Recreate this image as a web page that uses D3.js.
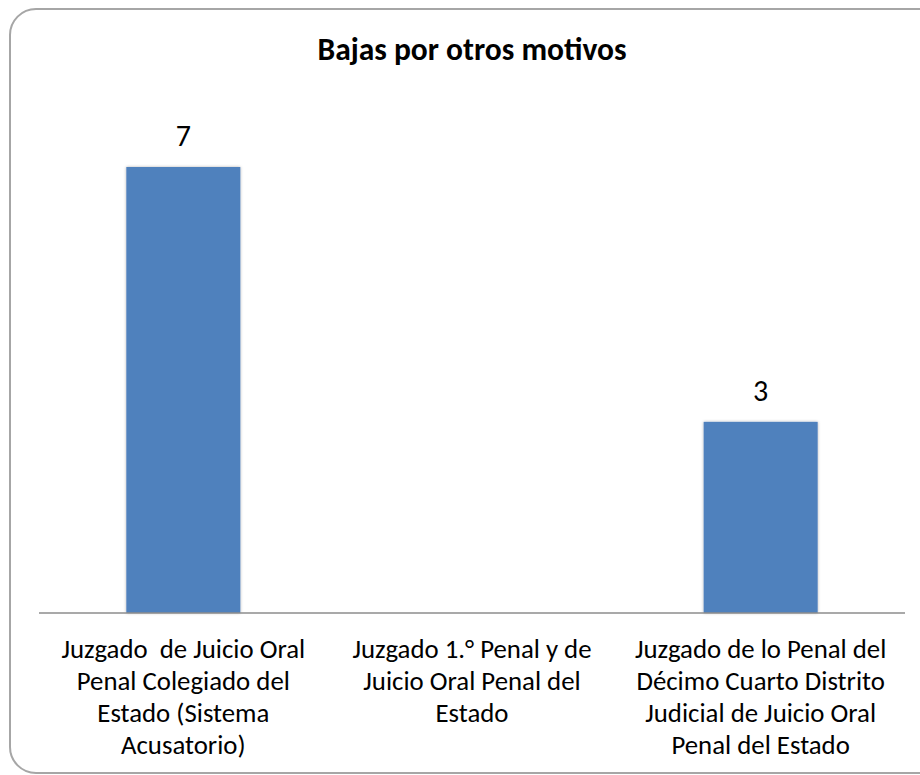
<!DOCTYPE html>
<html>
<head>
<meta charset="utf-8">
<script src="https://cdn.jsdelivr.net/npm/d3@7"></script>
<style>
  body { margin: 0; background: #fff; }
  text { font-family: Calibri, Carlito, Lato, sans-serif; fill: #000; white-space: pre; }
</style>
</head>
<body>
<div id="chart"></div>
<script>
var categorias = [
  "Juzgado  de Juicio Oral|Penal Colegiado del|Estado (Sistema|Acusatorio)",
  "Juzgado 1.° Penal y de|Juicio Oral Penal del|Estado",
  "Juzgado de lo Penal del|Décimo Cuarto Distrito|Judicial de Juicio Oral|Penal del Estado"
];
var valores = [7, null, 3];
var titulo = "Bajas por otros motivos";

var width = 920, height = 775;
var margin = {top: 100, right: 15, bottom: 162, left: 39};

var svg = d3.select("#chart")
  .append("svg")
  .attr("width", width)
  .attr("height", height);

// marco redondeado
svg.append("rect")
  .attr("x", 10).attr("y", 9)
  .attr("width", 935).attr("height", 764)
  .attr("rx", 26).attr("ry", 26)
  .style("fill", "#fff")
  .style("stroke", "#a6a6a6")
  .style("stroke-width", 2);

svg.append("text")
  .attr("x", 472).attr("y", 60)
  .style("text-anchor", "middle")
  .style("font-weight", "bold")
  .style("font-size", "31.5px")
  .text(titulo);

var x = d3.scaleBand()
  .domain(d3.range(categorias.length))
  .range([margin.left, width - margin.right])
  .paddingInner(0.605)
  .paddingOuter(0.3025);

var y = d3.scaleLinear()
  .domain([0, 7])
  .range([height - margin.bottom, 167]);

var base = y(0);

// sombra leve
var defs = svg.append("defs");
var f = defs.append("filter").attr("id", "sombra").attr("x", "-10%").attr("y", "-10%").attr("width", "120%").attr("height", "120%");
f.append("feDropShadow").attr("dx", 0).attr("dy", 0).attr("stdDeviation", 1.5).attr("flood-color", "#000").attr("flood-opacity", 0.3);

valores.forEach(function(v, i) {
  if (v == null) return;
  svg.append("rect")
    .attr("class", "bar")
    .attr("x", x(i))
    .attr("y", y(v))
    .attr("width", x.bandwidth())
    .attr("height", base - y(v))
    .style("fill", "#4f81bd")
    .style("filter", "url(#sombra)");

  // etiqueta de valor
  svg.append("text")
    .attr("x", x(i) + x.bandwidth() / 2)
    .attr("y", y(v) - 21)
    .style("text-anchor", "middle")
    .style("font-size", "30px")
    .text(v);
});

// eje
svg.append("line")
  .attr("x1", margin.left).attr("x2", 905)
  .attr("y1", base).attr("y2", base)
  .style("stroke", "#8c8c8c")
  .style("stroke-width", 1.5);

// etiquetas de categoria
categorias.forEach(function(c, i) {
  var t = svg.append("text")
    .attr("x", x(i) + x.bandwidth() / 2)
    .attr("y", 658)
    .style("text-anchor", "middle")
    .style("font-size", "26.8px");
  c.split("|").forEach(function(l, j) {
    t.append("tspan")
      .attr("x", x(i) + x.bandwidth() / 2)
      .attr("dy", j == 0 ? 0 : 32)
      .text(l);
  });
});
</script>
</body>
</html>
